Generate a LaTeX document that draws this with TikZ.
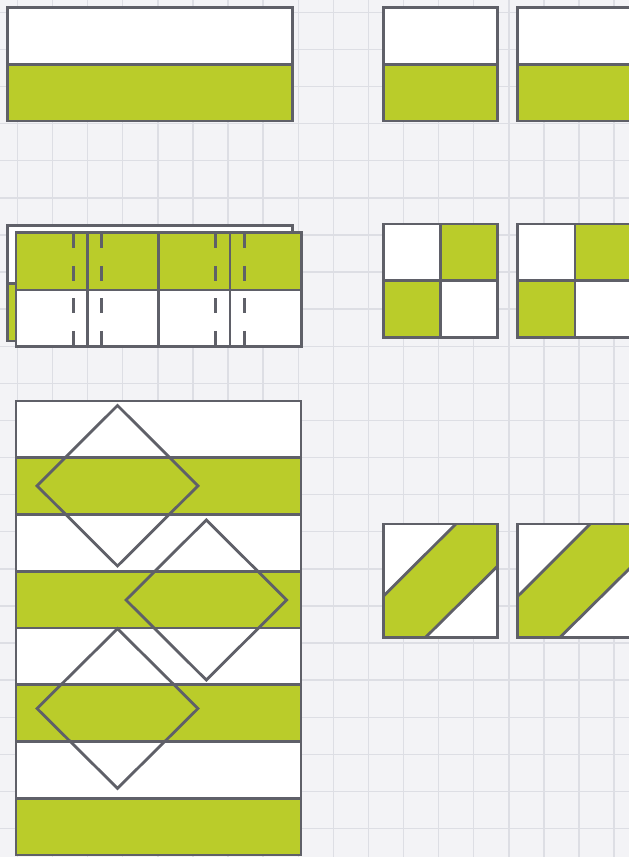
\documentclass[tikz,border=0pt]{standalone}
\definecolor{qgreen}{RGB}{186,204,42}
\definecolor{qline}{RGB}{95,96,104}
\definecolor{qbg}{RGB}{243,243,246}
\definecolor{qgrid}{RGB}{221,222,228}
\begin{document}
\begin{tikzpicture}[x=1pt,y=-1pt,
  tile/.style={draw=qline, line width=2.8pt, line join=miter},
  seam/.style={draw=qline, line width=2.6pt, dash pattern=on 15pt off 17.5pt},
  gridline/.style={draw=qgrid, line width=1.4pt}]
\useasboundingbox (0,0) rectangle (629,857);
\fill[qbg] (0,0) rectangle (629,857);
% graph paper grid
\foreach \k in {0,...,17} \draw[gridline] ({17.4+35.1*\k},0) -- ({17.4+35.1*\k},857);
\foreach \k in {0,...,22} \draw[gridline] (0,{12.3+37.1*\k}) -- (629,{12.3+37.1*\k});

% top-left long strip
\fill[white] (7.3,7.3) rectangle (292.3,64.3);
\fill[qgreen] (7.3,64.3) rectangle (292.3,121);
\draw[tile] (7.3,64.3) -- (292.3,64.3);
\draw[tile] (7.3,7.3) rectangle (292.3,121);

% top-right half blocks
\foreach \dx in {0,134.4} {
  \begin{scope}[shift={(\dx,0)}]
    \fill[white] (383.3,7.3) rectangle (497.7,64.3);
    \fill[qgreen] (383.3,64.3) rectangle (497.7,121);
    \draw[tile] (383.3,64.3) -- (497.7,64.3);
    \draw[tile] (383.3,7.3) rectangle (497.7,121);
  \end{scope}
}

% four-patch blocks
\foreach \dx in {0,134.4} {
  \begin{scope}[shift={(\dx,0)}]
    \fill[white] (383.3,224) rectangle (497.7,337.7);
    \fill[qgreen] (440.5,224) rectangle (497.7,280.8);
    \fill[qgreen] (383.3,280.8) rectangle (440.5,337.7);
    \draw[tile] (440.5,224) -- (440.5,337.7);
    \draw[tile] (383.3,280.8) -- (497.7,280.8);
    \draw[tile] (383.3,224) rectangle (497.7,337.7);
  \end{scope}
}

% sewn strip set: back layer
\fill[white] (7.3,225.7) rectangle (292.3,283.3);
\fill[qgreen] (7.3,283.3) rectangle (292.3,341);
\draw[tile] (7.3,283.3) -- (16,283.3);
\draw[tile] (7.3,225.7) rectangle (292.3,341);
% front layer
\fill[qgreen] (16,232.7) rectangle (301.7,290);
\fill[white] (16,290) rectangle (301.7,346.7);
\draw[tile] (16,290) -- (301.7,290);
\foreach \x in {87.3,158.7,230} \draw[tile] (\x,232.7) -- (\x,346.7);
\foreach \x in {73.3,101.7,215.3,244.3} \draw[seam] (\x,233.3) -- (\x,346.7);
\draw[tile] (16,232.7) rectangle (301.7,346.7);

% large striped quilt with diamonds
\foreach \i in {0,...,7} {
  \pgfmathsetmacro{\ya}{401+56.75*\i}
  \pgfmathsetmacro{\yb}{401+56.75*(\i+1)}
  \ifodd\i
    \fill[qgreen] (16,\ya) rectangle (301,\yb);
  \else
    \fill[white] (16,\ya) rectangle (301,\yb);
  \fi
}
\foreach \i in {1,...,7} \draw[tile] (16,{401+56.75*\i}) -- (301,{401+56.75*\i});
\draw[tile] (16,401) rectangle (301,855);
\draw[tile] (117.5,405.5) -- (198,485.8) -- (117.5,566) -- (37,485.8) -- cycle;
\draw[tile] (206.3,520) -- (286.7,600) -- (206.3,680) -- (126,600) -- cycle;
\draw[tile] (117.5,628.7) -- (198,708.5) -- (117.5,788.3) -- (37,708.5) -- cycle;

% diagonal band blocks
\foreach \dx in {0,134.4} {
  \begin{scope}[shift={(\dx,0)}]
    \fill[white] (383.3,524) rectangle (497.7,637.7);
    \fill[qgreen] (383.3,596.3) -- (455.8,524) -- (497.7,524) -- (497.7,566) -- (425.2,637.7) -- (383.3,637.7) -- cycle;
    \draw[tile] (383.3,596.3) -- (455.8,524);
    \draw[tile] (425.2,637.7) -- (497.7,566);
    \draw[tile] (383.3,524) rectangle (497.7,637.7);
  \end{scope}
}
\end{tikzpicture}
\end{document}
